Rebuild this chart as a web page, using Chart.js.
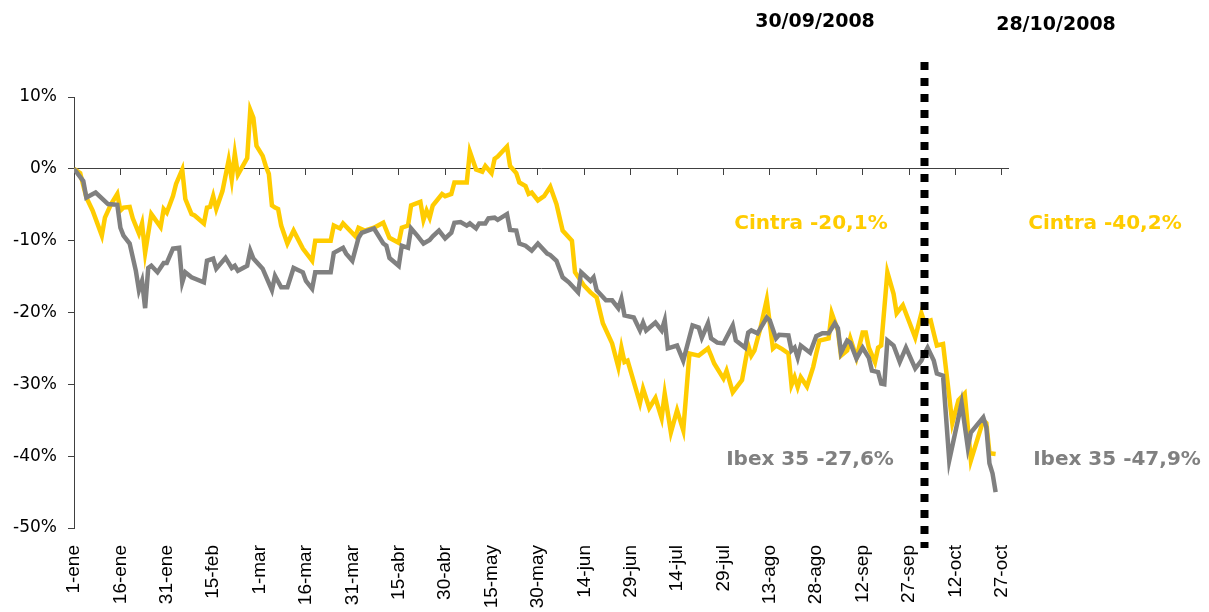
<!DOCTYPE html>
<html>
<head>
<meta charset="utf-8">
<script src="https://cdn.jsdelivr.net/npm/chart.js@4.4.0/dist/chart.umd.min.js"></script>
<style>
  html, body { margin: 0; padding: 0; background: #fff; }
  #chart { display: block; }
</style>
</head>
<body>
<canvas id="chart" width="1209" height="612"></canvas>
<script>
// days counted from 1 Jan 2008, values in % change since 1 Jan
const tickDays = [0, 15, 30, 45, 60, 75, 90, 105, 120, 135, 150, 165, 180, 195, 210, 225, 240, 255, 270, 285, 300];
const tickLabels = ['1-ene', '16-ene', '31-ene', '15-feb', '1-mar', '16-mar', '31-mar', '15-abr', '30-abr', '15-may',
  '30-may', '14-jun', '29-jun', '14-jul', '29-jul', '13-ago', '28-ago', '12-sep', '27-sep', '12-oct', '27-oct'];
const yTicks = [-50, -40, -30, -20, -10, 0, 10];

const cintraDays = [0, 2, 4, 6, 9, 10, 12, 14, 15, 16, 18, 19, 21, 22, 23, 25, 26, 28, 29, 30, 32, 33, 35, 36, 38, 39,
  42, 43, 44, 45, 46, 48, 50, 51, 52, 53, 56, 57, 58, 59, 61, 62, 63, 64, 65, 66, 67, 69, 71, 74, 77, 78, 83, 84, 86, 87,
  91, 92, 94, 97, 100, 102, 105, 106, 108, 109, 112, 113, 114, 115, 116, 119, 120, 122, 123, 127, 128, 130, 132, 133,
  135, 136, 137, 140, 141, 143, 144, 146, 147, 148, 150, 152, 154, 156, 158, 161, 162, 165, 167, 169, 171, 174, 176,
  177, 178, 179, 183, 184, 186, 188, 190, 191, 193, 195, 197, 199, 202, 205, 206, 207, 210, 211, 213, 216, 218, 219,
  220, 222, 224, 226, 227, 229, 231, 232, 233, 234, 235, 237, 239, 240, 241, 244, 245, 247, 248, 250, 251, 253, 255,
  256, 257, 259, 260, 261, 263, 265, 266, 268, 272, 274, 275, 277, 278, 279, 281, 284, 286, 288, 290, 292, 294, 295,
  296, 298];
const cintraValues = [0, -0.6, -4.0, -5.8, -9.3, -6.8, -4.9, -3.5, -5.8, -5.4, -5.3, -6.9, -9.0, -7.6, -11.7, -6.3, -6.9,
  -8.1, -5.6, -6.1, -3.8, -2.1, -0.1, -4.2, -6.3, -6.5, -7.6, -5.4, -5.3, -3.8, -5.6, -3.1, 1.2, -1.5, 2.1, -0.8, 1.5,
  8.2, 7.1, 3.2, 1.8, 0.4, -0.7, -5.1, -5.4, -5.6, -7.9, -10.4, -8.6, -11.1, -12.8, -10.0, -10.0, -7.9, -8.3, -7.6,
  -9.4, -8.2, -8.6, -8.2, -7.5, -9.6, -10.3, -8.2, -7.9, -5.1, -4.6, -7.1, -5.8, -6.8, -5.1, -3.5, -3.8, -3.5, -1.9,
  -1.9, 2.4, -0.1, -0.4, 0.4, -0.6, 1.4, 1.7, 3.1, 0.4, -0.6, -1.9, -2.4, -3.5, -3.3, -4.4, -3.8, -2.5, -4.9, -8.6,
  -10.0, -14.4, -16.3, -17.2, -17.9, -21.5, -24.3, -27.6, -24.9, -26.9, -26.7, -32.6, -30.6, -33.3, -31.9, -34.7,
  -31.3, -36.7, -33.6, -36.4, -25.7, -26.0, -25.0, -26.0, -27.1, -29.2, -28.1, -31.1, -29.4, -24.6, -26.0, -25.3,
  -22.1, -18.2, -25.0, -24.6, -25.1, -25.7, -30.1, -29.0, -30.4, -29.0, -30.3, -27.6, -25.7, -23.9, -23.6, -20.1,
  -22.5, -26.0, -25.3, -23.6, -26.3, -22.8, -22.8, -24.9, -26.9, -24.9, -24.6, -14.4, -17.4, -20.1, -19.0, -23.5,
  -20.1, -21.4, -21.1, -22.9, -24.6, -24.4, -35.4, -32.2, -31.3, -40.6, -37.8, -35.0, -35.4, -39.6, -39.7];

const ibexDays = [0, 3, 4, 7, 11, 14, 15, 16, 18, 20, 21, 22, 23, 24, 25, 27, 29, 30, 32, 34, 35, 36, 38, 42, 43, 45,
  46, 49, 50, 51, 52, 53, 56, 57, 58, 61, 62, 64, 65, 67, 69, 71, 74, 75, 77, 78, 83, 84, 87, 88, 90, 92, 93, 95, 97,
  100, 101, 102, 105, 106, 108, 109, 111, 113, 115, 116, 118, 120, 122, 123, 125, 127, 128, 130, 131, 133, 134, 136,
  137, 140, 141, 143, 144, 146, 148, 150, 153, 154, 156, 158, 160, 163, 164, 167, 168, 169, 172, 174, 176, 177, 178,
  181, 183, 184, 185, 188, 190, 191, 192, 195, 197, 200, 202, 203, 205, 206, 208, 210, 213, 214, 217, 218, 219, 221,
  224, 225, 227, 228, 231, 232, 233, 234, 235, 238, 240, 242, 244, 246, 247, 248, 250, 251, 253, 255, 257, 258, 260,
  261, 262, 263, 265, 267, 269, 272, 274, 275, 276, 278, 279, 281, 283, 287, 289, 290, 294, 295, 296, 297, 298];
const ibexValues = [0, -1.7, -4.0, -3.3, -4.9, -5.0, -8.2, -9.3, -10.4, -14.2, -16.9, -15.6, -19.4, -13.8, -13.5,
  -14.4, -13.1, -13.1, -11.1, -11.0, -15.8, -14.4, -15.1, -15.8, -12.8, -12.5, -13.9, -12.4, -13.1, -13.8, -13.5,
  -14.2, -13.5, -11.4, -12.5, -13.9, -14.9, -16.9, -14.9, -16.5, -16.5, -13.8, -14.4, -15.6, -16.7, -14.4, -14.4,
  -11.7, -11.0, -11.8, -12.8, -9.6, -8.9, -8.6, -8.3, -10.4, -10.7, -12.4, -13.5, -10.7, -11.0, -8.3, -9.3, -10.4,
  -9.9, -9.4, -8.6, -9.7, -8.9, -7.5, -7.4, -7.9, -7.6, -8.3, -7.6, -7.6, -6.9, -6.8, -7.1, -6.3, -8.5, -8.6, -10.4,
  -10.7, -11.4, -10.4, -11.8, -12.0, -12.8, -15.1, -15.8, -17.2, -14.4, -15.6, -15.1, -16.9, -18.3, -18.3, -19.4,
  -18.1, -20.4, -20.7, -22.5, -21.4, -22.5, -21.4, -22.5, -21.1, -25.0, -24.6, -26.7, -21.8, -22.1, -23.5, -21.5,
  -23.6, -24.2, -24.3, -21.8, -23.9, -24.9, -22.8, -22.5, -22.9, -20.7, -21.1, -23.6, -23.1, -23.2, -25.3, -24.9,
  -26.3, -24.6, -25.6, -23.3, -22.9, -22.9, -21.5, -22.2, -25.6, -23.9, -24.2, -26.4, -24.9, -26.3, -28.1, -28.3,
  -29.9, -30.0, -23.9, -24.6, -26.9, -24.9, -27.8, -26.7, -25.7, -24.9, -26.7, -28.5, -28.8, -40.6, -32.6, -38.8,
  -36.7, -34.6, -36.0, -41.0, -42.4, -45.0];

const markerDay = 275;
const dateLabels = ['30/09/2008', '28/10/2008'];
const cintraLabels = ['Cintra -20,1%', 'Cintra -40,2%'];
const ibexLabels = ['Ibex 35 -27,6%', 'Ibex 35 -47,9%'];

const YELLOW = '#FFCC00';
const GREY = '#808080';
const AXIS = '#404040';

function toPoints(days, values) {
  return days.map((d, i) => ({ x: d, y: values[i] }));
}

function setTicks(axis) {
  axis.ticks = tickDays.map(v => ({ value: v }));
}

const overlay = {
  id: 'overlay',
  afterDatasetsDraw(chart) {
    const ctx = chart.ctx;
    const x = chart.scales.x.getPixelForValue(markerDay);
    ctx.save();
    ctx.strokeStyle = '#000';
    ctx.lineWidth = 8;
    ctx.setLineDash([8, 8]);
    ctx.beginPath();
    ctx.moveTo(x, 62);
    ctx.lineTo(x, 548);
    ctx.stroke();

    ctx.textAlign = 'center';
    ctx.textBaseline = 'middle';
    ctx.font = 'bold 19px "DejaVu Sans"';
    ctx.fillStyle = '#000';
    ctx.fillText(dateLabels[0], 815, 22);
    ctx.fillText(dateLabels[1], 1056, 25);

    ctx.font = 'bold 20px "DejaVu Sans"';
    ctx.fillStyle = YELLOW;
    ctx.fillText(cintraLabels[0], 811, 224);
    ctx.fillText(cintraLabels[1], 1105, 224);
    ctx.fillStyle = GREY;
    ctx.fillText(ibexLabels[0], 810, 460);
    ctx.fillText(ibexLabels[1], 1117, 460);
    ctx.restore();
  }
};

new Chart(document.getElementById('chart'), {
  type: 'line',
  data: {
    datasets: [
      {
        label: 'Ibex 35',
        data: toPoints(ibexDays, ibexValues),
        borderColor: GREY,
        borderWidth: 4.5,
        pointRadius: 0,
        tension: 0,
        order: 0
      },
      {
        label: 'Cintra',
        data: toPoints(cintraDays, cintraValues),
        borderColor: YELLOW,
        borderWidth: 4.5,
        pointRadius: 0,
        tension: 0,
        order: 1
      }
    ]
  },
  options: {
    responsive: false,
    animation: false,
    devicePixelRatio: 1,
    layout: { padding: { top: 97, right: 201, bottom: 0, left: 0 } },
    plugins: {
      legend: { display: false },
      tooltip: { enabled: false }
    },
    scales: {
      x: {
        type: 'linear',
        position: { y: 0 },
        min: 0,
        max: 302,
        afterBuildTicks: setTicks,
        afterFit: (axis) => { axis.height = 0; },
        ticks: { display: false },
        grid: { drawOnChartArea: false, drawTicks: true, tickLength: 6, color: AXIS },
        border: { display: true, color: AXIS, width: 1 }
      },
      xb: {
        type: 'linear',
        position: 'bottom',
        min: 0,
        max: 302,
        afterBuildTicks: setTicks,
        afterFit: (axis) => { axis.height = 84; },
        grid: { display: false, drawTicks: false },
        border: { display: false },
        ticks: {
          autoSkip: false,
          minRotation: 90,
          maxRotation: 90,
          padding: 17,
          color: '#000',
          font: { family: '"Liberation Sans", Arial', size: 19 },
          callback: (value, index) => tickLabels[index]
        }
      },
      y: {
        min: -50,
        max: 10,
        afterBuildTicks: (axis) => { axis.ticks = yTicks.map(v => ({ value: v })); },
        afterFit: (axis) => { axis.width = 74; },
        grid: { drawOnChartArea: false, drawTicks: true, tickLength: 6, color: AXIS },
        border: { display: true, color: AXIS, width: 1 },
        ticks: {
          padding: 11,
          color: '#000',
          font: { family: '"DejaVu Sans"', size: 17 },
          callback: (value) => value + '%'
        }
      }
    }
  },
  plugins: [overlay]
});
</script>
</body>
</html>
